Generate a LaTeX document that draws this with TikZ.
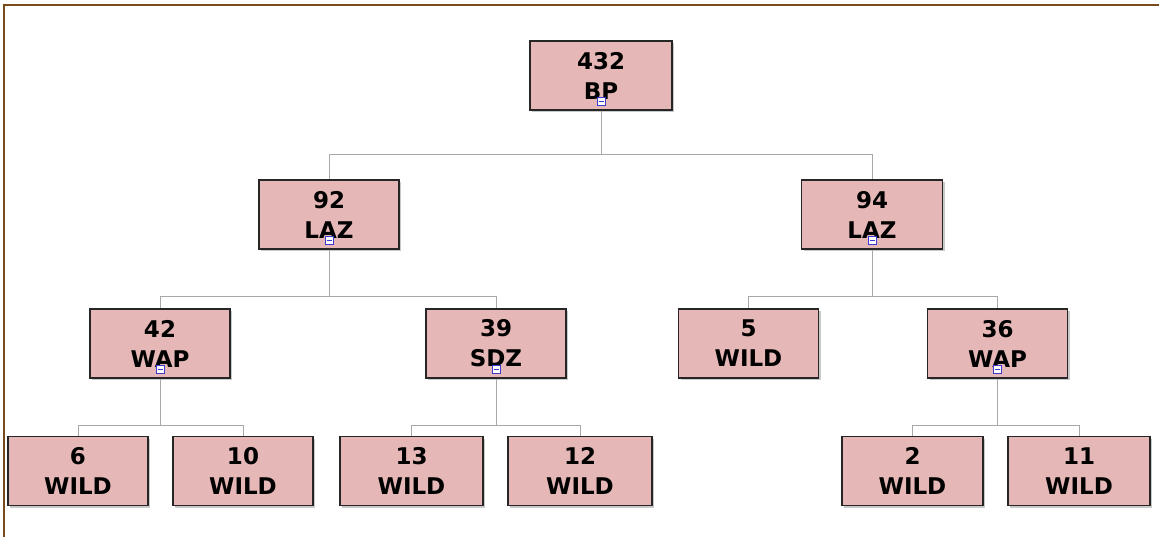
\documentclass[tikz,border=0pt]{standalone}
\usepackage{fontspec}
\setmainfont{DejaVu Sans}
\usetikzlibrary{shadows}
\definecolor{boxfill}{HTML}{E5B7B6}
\definecolor{frameb}{HTML}{7A4A1A}
\definecolor{linkc}{HTML}{A8A8A8}
\definecolor{iconc}{HTML}{3A3AD0}
\tikzset{
  nd/.style={draw=black!85, line width=1.3pt, fill=boxfill, minimum width=140pt, minimum height=69pt,
    inner sep=0pt, align=center, font=\fontsize{23}{30}\selectfont\bfseries,
    drop shadow={shadow xshift=2pt, shadow yshift=-2pt, fill=black!35, opacity=0.6}},
  link/.style={draw=linkc, line width=1pt},
  icon/.style={draw=iconc, fill=white, line width=0.8pt, minimum size=8pt, inner sep=0pt}
}
\begin{document}
\begin{tikzpicture}[x=1pt,y=-1pt]
\useasboundingbox (0,0) rectangle (1159,537);
\fill[white] (0,0) rectangle (1159,537);
\draw[frameb, line width=2.2pt] (4,537) -- (4,5) -- (1159,5);
% nodes
\node[nd, minimum width=142pt] (bp) at (601,75.5) {432\\BP};
\node[nd] (l92) at (329,214.5) {92\\LAZ};
\node[nd, minimum width=141pt] (l94) at (872,214.5) {94\\LAZ};
\node[nd] (w42) at (160,343.5) {42\\WAP};
\node[nd] (s39) at (496,343.5) {39\\SDZ};
\node[nd] (w5) at (748.5,343.5) {5\\WILD};
\node[nd] (w36) at (997.5,343.5) {36\\WAP};
\node[nd] (w6) at (78,471) {6\\WILD};
\node[nd] (w10) at (243,471) {10\\WILD};
\node[nd, minimum width=143pt] (w13) at (411.5,471) {13\\WILD};
\node[nd, minimum width=144pt] (w12) at (580,471) {12\\WILD};
\node[nd, minimum width=141pt] (w2) at (912.5,471) {2\\WILD};
\node[nd, minimum width=142pt] (w11) at (1079,471) {11\\WILD};
% bus coordinates
\coordinate (b1) at (0,155);
\coordinate (b2) at (0,297);
\coordinate (b3) at (0,425);
% connectors
\draw[link] (bp.south) -- (bp.south |- b1) -| (l92.north);
\draw[link] (bp.south |- b1) -| (l94.north);
\draw[link] (l92.south) -- (l92.south |- b2) -| (w42.north);
\draw[link] (l92.south |- b2) -| (s39.north);
\draw[link] (l94.south) -- (l94.south |- b2) -| (w5.north);
\draw[link] (l94.south |- b2) -| (w36.north);
\draw[link] (w42.south) -- (w42.south |- b3) -| (w6.north);
\draw[link] (w42.south |- b3) -| (w10.north);
\draw[link] (s39.south) -- (s39.south |- b3) -| (w13.north);
\draw[link] (s39.south |- b3) -| (w12.north);
\draw[link] (w36.south) -- (w36.south |- b3) -| (w2.north);
\draw[link] (w36.south |- b3) -| (w11.north);
% collapse icons
\foreach \n in {bp,l92,l94,w42,s39,w36}{
  \node[icon] (i\n) at ([yshift=9pt]\n.south) {};
  \draw[iconc, line width=0.6pt] ([xshift=-2.5pt]i\n.center) -- ([xshift=2.5pt]i\n.center);
}
\end{tikzpicture}
\end{document}
